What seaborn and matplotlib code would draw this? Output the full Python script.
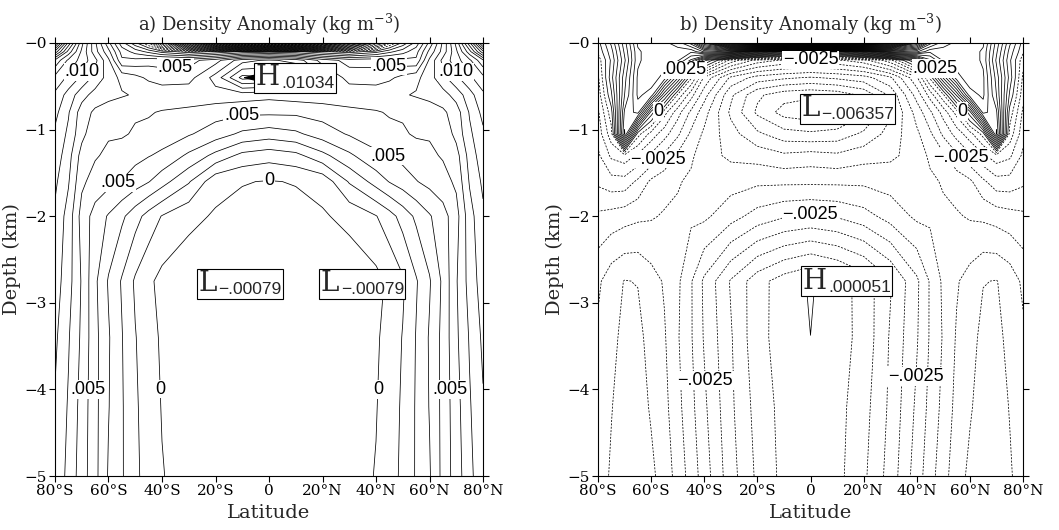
import numpy as np
import pandas as pd
import matplotlib
matplotlib.use("Agg")
import matplotlib.pyplot as plt
import seaborn as sns
from matplotlib.font_manager import FontProperties
from matplotlib.offsetbox import TextArea, HPacker, AnnotationBbox

sns.set_theme(style="ticks")
plt.rcParams["font.family"] = ["DejaVu Serif"]
plt.rcParams["mathtext.fontset"] = "dejavuserif"
plt.rcParams["axes.edgecolor"] = "black"
plt.rcParams["axes.linewidth"] = 0.8
plt.rcParams["xtick.color"] = "black"
plt.rcParams["ytick.color"] = "black"
LABEL_FONT = ["Liberation Sans", "DejaVu Sans"]
LABEL_SIZE = 13

# ---- grid of the zonal-mean section ---------------------------------------
latitude = [-80, -75, -70, -65, -60, -55, -50, -45, -40, -30, -20, -10, 0,
            10, 20, 30, 40, 45, 50, 55, 60, 65, 70, 75, 80]
depth_km = [0.0, -0.1, -0.2, -0.4, -0.6, -0.8, -1.05, -1.3, -1.6, -2.0,
            -2.75, -3.4, -4.2, -5.0]

# density anomaly, panel a (units of 1e-3 kg m-3), one row per depth level
anom_a = [
    [21.6, 15.7, 11.3, 8.2, 5.3, 2.4, 0.3, -2.2, -8.3, -19.6, -29.7, -34.6, -35.8, -34.6, -29.7, -19.6, -8.3, -2.2, 0.3, 2.4, 5.3, 8.2, 11.3, 15.7, 21.6],
    [17.7, 13.6, 10.8, 8.4, 6.3, 3.6, 2.6, 1.7, 0.6, -0.6, 0.2, 1.2, 1.6, 1.2, 0.2, -0.6, 0.6, 1.7, 2.6, 3.6, 6.3, 8.4, 10.8, 13.6, 17.7],
    [13.8, 11.8, 10.6, 9.3, 7.2, 4.2, 4.3, 4.6, 4.7, 4.6, 5.6, 7.6, 8.2, 7.6, 5.6, 4.6, 4.7, 4.6, 4.3, 4.2, 7.2, 9.3, 10.6, 11.8, 13.8],
    [11.7, 10.8, 9.8, 8.7, 7.6, 6.7, 6.3, 5.8, 5.4, 5.6, 7.4, 10.34, 10.1, 9.8, 7.2, 5.6, 5.4, 5.8, 6.3, 6.7, 7.6, 8.7, 9.8, 10.8, 11.7],
    [10.8, 9.6, 8.4, 7.6, 7.3, 7.1, 6.9, 6.8, 6.8, 6.7, 6.6, 6.5, 6.3, 6.5, 6.6, 6.7, 6.8, 6.8, 6.9, 7.1, 7.3, 7.6, 8.4, 9.6, 10.8],
    [10.3, 9.1, 7.5, 6.8, 6.5, 6.3, 6.1, 6.1, 5.9, 5.7, 5.4, 5.2, 5.2, 5.2, 5.4, 5.7, 5.9, 6.1, 6.1, 6.3, 6.5, 6.8, 7.5, 9.1, 10.3],
    [9.8, 8.8, 7.3, 6.3, 6.1, 6.1, 5.9, 5.7, 5.5, 5.1, 4.5, 3.8, 3.5, 3.8, 4.5, 5.1, 5.5, 5.7, 5.9, 6.1, 6.1, 6.3, 7.3, 8.8, 9.8],
    [9.6, 8.4, 6.6, 6.1, 5.8, 5.6, 5.3, 5.05, 4.8, 3.8, 2.7, 1.7, 1.4, 1.7, 2.7, 3.8, 4.8, 5.05, 5.3, 5.6, 5.8, 6.1, 6.6, 8.4, 9.6],
    [9.2, 8.1, 6.2, 5.6, 5.3, 4.95, 4.5, 4.05, 3.4, 2.1, 0.3, 0.05, -0.05, 0.05, 0.3, 2.1, 3.4, 4.05, 4.5, 4.95, 5.3, 5.6, 6.2, 8.1, 9.2],
    [8.8, 7.6, 5.6, 4.6, 3.9, 3.2, 2.4, 1.6, 0.95, 0.25, -0.1, -0.3, -0.4, -0.3, -0.1, 0.25, 0.95, 1.6, 2.4, 3.2, 3.9, 4.6, 5.6, 7.6, 8.8],
    [8.5, 7.4, 5.9, 4.2, 2.9, 1.9, 0.85, 0.2, -0.3, -0.6, -0.79, -0.78, -0.77, -0.78, -0.79, -0.6, -0.3, 0.2, 0.85, 1.9, 2.9, 4.2, 5.9, 7.4, 8.5],
    [8.2, 7.1, 5.8, 4.3, 3.1, 2.05, 1.05, 0.4, -0.15, -0.55, -0.72, -0.76, -0.76, -0.76, -0.72, -0.55, -0.15, 0.4, 1.05, 2.05, 3.1, 4.3, 5.8, 7.1, 8.2],
    [7.9, 6.9, 5.6, 4.3, 3.05, 2.1, 1.15, 0.5, -0.05, -0.5, -0.7, -0.74, -0.75, -0.74, -0.7, -0.5, -0.05, 0.5, 1.15, 2.1, 3.05, 4.3, 5.6, 6.9, 7.9],
    [7.8, 6.7, 5.5, 4.3, 2.9, 2.1, 1.2, 0.6, 0.05, -0.45, -0.65, -0.72, -0.74, -0.72, -0.65, -0.45, 0.05, 0.6, 1.2, 2.1, 2.9, 4.3, 5.5, 6.7, 7.8],
]

# density anomaly, panel b (units of 1e-3 kg m-3)
anom_b = [
    [-0.2, 1.1, 2.8, 4.6, 4.8, 4.9, 5.2, 6.2, 9.1, 14.2, 18.2, 20.2, 20.3, 20.2, 18.2, 14.2, 9.1, 6.2, 5.2, 4.9, 4.8, 4.6, 2.8, 1.1, -0.2],
    [-0.4, 0.8, 2.6, 4.4, 4.8, 4.8, 4.8, 4.6, 5.6, 6.2, 4.6, 3.1, 2.1, 3.1, 4.6, 6.2, 5.6, 4.6, 4.8, 4.8, 4.8, 4.4, 2.6, 0.8, -0.4],
    [-0.8, 0.6, 2.4, 4.4, 4.8, 4.8, 4.6, 3.4, 1.2, -1.2, -2.2, -2.6, -2.7, -2.6, -2.2, -1.2, 1.2, 3.4, 4.6, 4.8, 4.8, 4.4, 2.4, 0.6, -0.8],
    [-1.1, 0.8, 2.8, 4.6, 4.8, 4.3, 2.1, -0.4, -2.1, -3.6, -4.2, -4.4, -4.55, -4.4, -4.2, -3.6, -2.1, -0.4, 2.1, 4.3, 4.8, 4.6, 2.8, 0.8, -1.1],
    [-1.3, 0.4, 3.0, 4.6, 4.3, 1.6, -0.6, -1.8, -2.8, -4.4, -5.4, -5.8, -5.9, -5.8, -5.4, -4.4, -2.8, -1.8, -0.6, 1.6, 4.3, 4.6, 3.0, 0.4, -1.3],
    [-1.6, -0.2, 3.6, 4.2, 0.8, -0.8, -1.8, -2.6, -3.3, -4.6, -5.6, -6.2, -6.357, -6.2, -5.6, -4.6, -3.3, -2.6, -1.8, -0.8, 0.8, 4.2, 3.6, -0.2, -1.6],
    [-1.8, -0.7, 4.1, -0.3, -1.2, -1.8, -2.4, -3.1, -3.6, -4.3, -4.9, -5.3, -5.4, -5.3, -4.9, -4.3, -3.6, -3.1, -2.4, -1.8, -1.2, -0.3, 4.1, -0.7, -1.8],
    [-2.1, -1.4, -1.2, -1.6, -2.1, -2.6, -3.1, -3.4, -3.8, -4.1, -4.2, -4.4, -4.3, -4.4, -4.2, -4.1, -3.8, -3.4, -3.1, -2.6, -2.1, -1.6, -1.2, -1.4, -2.1],
    [-2.4, -2.2, -2.2, -2.6, -3.1, -3.3, -3.45, -3.6, -3.7, -3.7, -3.6, -3.6, -3.6, -3.6, -3.6, -3.7, -3.7, -3.6, -3.45, -3.3, -3.1, -2.6, -2.2, -2.2, -2.4],
    [-3.1, -3.2, -3.3, -3.4, -3.45, -3.55, -3.6, -3.6, -3.6, -3.2, -2.8, -2.55, -2.45, -2.55, -2.8, -3.2, -3.6, -3.6, -3.6, -3.55, -3.45, -3.4, -3.3, -3.2, -3.1],
    [-3.9, -4.3, -4.52, -4.48, -4.2, -3.95, -3.6, -3.05, -2.4, -1.45, -0.7, -0.25, 0.051, -0.25, -0.7, -1.45, -2.4, -3.05, -3.6, -3.95, -4.2, -4.48, -4.52, -4.3, -3.9],
    [-4.1, -4.35, -4.65, -4.65, -4.3, -4.05, -3.55, -3.05, -2.45, -1.55, -0.65, -0.3, -0.002, -0.3, -0.65, -1.55, -2.45, -3.05, -3.55, -4.05, -4.3, -4.65, -4.65, -4.35, -4.1],
    [-4.2, -4.48, -4.7, -4.7, -4.45, -4.15, -3.65, -3.15, -2.6, -1.6, -0.8, -0.33, -0.1, -0.33, -0.8, -1.6, -2.6, -3.15, -3.65, -4.15, -4.45, -4.7, -4.7, -4.48, -4.2],
    [-4.3, -4.55, -4.7, -4.7, -4.6, -4.3, -3.8, -3.3, -2.75, -1.7, -0.9, -0.35, -0.2, -0.35, -0.9, -1.7, -2.75, -3.3, -3.8, -4.3, -4.6, -4.7, -4.7, -4.55, -4.3],
]

UNIT = 1e-3  # table units -> kg m-3

lat_ticks = [-80, -60, -40, -20, 0, 20, 40, 60, 80]
lat_tick_labels = ["80°S", "60°S", "40°S", "20°S", "0", "20°N", "40°N", "60°N", "80°N"]
depth_ticks = [0, -1, -2, -3, -4, -5]
depth_tick_labels = ["\u22120", "\u22121", "\u22122", "\u22123", "\u22124", "\u22125"]

# extrema marked with H / L boxes: (letter, latitude, depth, box anchor, arrow)
extrema_a = [("H", -10, -0.4, (-5.0, -0.40), True),
             ("L", -20, -2.75, (-26.5, -2.78), False),
             ("L", 20, -2.75, (19.4, -2.78), False)]
extrema_b = [("L", 0, -0.8, (-3.5, -0.76), False),
             ("H", 0, -2.75, (-3.0, -2.75), False)]

# contour labels: level -> list of (latitude, depth) places
labels_a = {0.010: [(-70, -0.33), (70, -0.33)],
            0.005: [(-35, -0.28), (45, -0.32), (-10, -0.87), (44, -1.34),
                    (-56, -1.64), (-69, -4.0), (68, -4.0)],
            0.0: [(0, -1.58), (-42, -4.0), (41, -4.0)]}
labels_b = {0.0025: [(-47, -0.33), (46, -0.33)],
            0.0: [(-57, -0.8), (57, -0.8)],
            -0.0025: [(0, -0.2), (-57, -1.35), (56, -1.35), (0, -2.02),
                      (-40, -3.9), (39, -3.85)]}


def make_table(values):
    return pd.DataFrame(np.asarray(values) * UNIT, index=depth_km, columns=latitude)


def fmt_value(ndec):
    def f(v):
        if abs(v) < 1e-12:
            return "0"
        s = f"{abs(v):.{ndec}f}".lstrip("0")
        return ("\u2212" if v < 0 else "") + s
    return f


def label_level(cs, level_index, places, fmt):
    """Horizontal, blanked labels for one contour level near the given points."""
    lev = cs.levels[level_index]
    cs.clabel([lev], manual=[], fmt=fmt, inline=False, fontsize=LABEL_SIZE)
    n = len(cs.levels)
    cs.labelLevelList = [lev] * n
    cs.labelCValueList = [cs.cvalues[level_index]] * n
    cs._label_font_props = FontProperties(family=LABEL_FONT, size=LABEL_SIZE)
    for x, y in places:
        cs.add_label_near(x, y, inline=False)


def draw_panel(ax, table, step, label_ndec, box_ndec, labels, extrema, title):
    ax.set_xlim(-80, 80)
    ax.set_ylim(-5, 0)
    X, Y = np.meshgrid(table.columns.values.astype(float), table.index.values.astype(float))
    Z = table.values
    k0 = int(np.floor(Z.min() / step))
    k1 = int(np.ceil(Z.max() / step))
    levels = np.arange(k0, k1 + 1) * step
    styles = ["solid" if lv >= -1e-12 else (0, (2.6, 1.8)) for lv in levels]
    cs = ax.contour(X, Y, Z, levels=levels, colors="black", linewidths=0.55,
                    linestyles=styles)
    ax.set_xlim(-80, 80)
    ax.set_ylim(-5, 0)
    fmt = fmt_value(label_ndec)
    for lev, places in labels.items():
        idx = int(np.argmin(np.abs(cs.levels - lev)))
        label_level(cs, idx, places, fmt)
    for txt in cs.labelTexts:
        txt.set_rotation(0)
        txt.set_zorder(4)
        txt.set_bbox(dict(facecolor="white", edgecolor="none", pad=0.5))

    box_fmt = fmt_value(box_ndec)
    for letter, lat, dep, anchor, arrow in extrema:
        value = table.loc[dep, lat]
        big = TextArea(letter, textprops=dict(fontsize=20, family="DejaVu Serif"))
        small = TextArea(box_fmt(value), textprops=dict(fontsize=12.5, family=LABEL_FONT))
        pack = HPacker(children=[big, small], align="bottom", pad=0, sep=1)
        kw = dict(xycoords="data", boxcoords="data", box_alignment=(0, 0.5),
                  frameon=True, pad=0.1,
                  bboxprops=dict(edgecolor="black", facecolor="white", lw=0.8))
        if arrow:
            kw["arrowprops"] = dict(arrowstyle="-|>,head_length=0.6,head_width=0.15",
                                    color="black", lw=0.8, shrinkA=0, shrinkB=0)
        ab = AnnotationBbox(pack, (lat, dep), xybox=anchor, zorder=5, **kw)
        ax.add_artist(ab)

    ax.set_xticks(lat_ticks)
    ax.set_xticklabels(lat_tick_labels, fontsize=11)
    ax.set_yticks(depth_ticks)
    ax.set_yticklabels(depth_tick_labels, fontsize=11)
    ax.tick_params(direction="out", length=4, width=0.8, top=True, right=True,
                   labeltop=False, labelright=False, pad=2)
    ax.set_xlabel("Latitude", fontsize=14, labelpad=4)
    ax.set_ylabel("Depth (km)", fontsize=14, labelpad=2)
    ax.set_title(title, fontsize=13, pad=9)
    for sp in ax.spines.values():
        sp.set_visible(True)
        sp.set_color("black")
        sp.set_linewidth(0.8)


fig = plt.figure(figsize=(10.59, 5.30), dpi=100)
ax_a = fig.add_axes([55 / 1059, 1 - 476 / 530, 428 / 1059, 433 / 530])
ax_b = fig.add_axes([598 / 1059, 1 - 476 / 530, 425 / 1059, 433 / 530])

draw_panel(ax_a, make_table(anom_a), 0.001, 3, 5, labels_a, extrema_a,
           "a) Density Anomaly (kg m$^{-3}$)")
draw_panel(ax_b, make_table(anom_b), 0.0005, 4, 6, labels_b, extrema_b,
           "b) Density Anomaly (kg m$^{-3}$)")

fig.savefig("out.png", dpi=100, facecolor="white")
